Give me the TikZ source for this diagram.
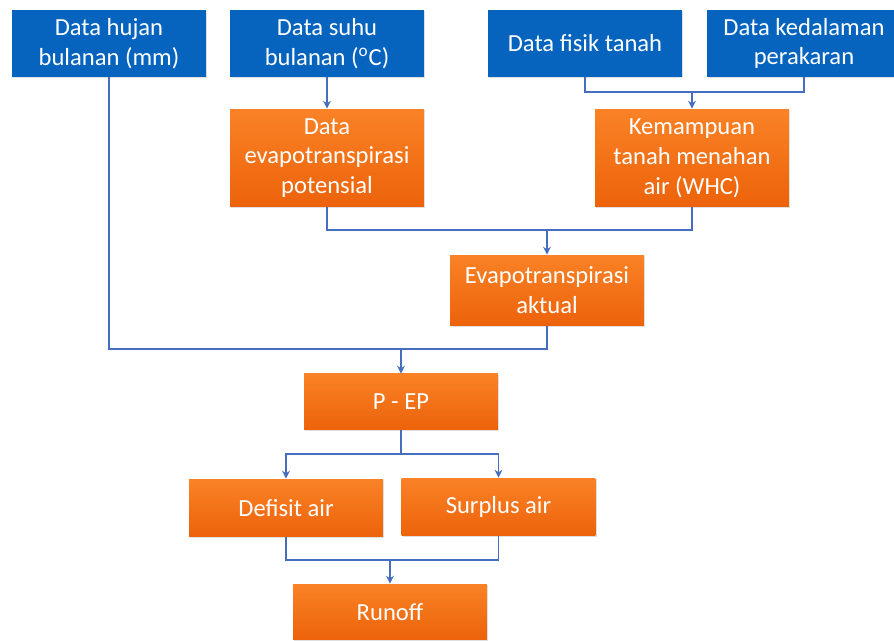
\documentclass[tikz,border=0pt]{standalone}
\usepackage{fontspec}
\setmainfont{Carlito}
\usetikzlibrary{positioning, arrows.meta, shadows}

\definecolor{boxblue}{RGB}{6,100,190}
\definecolor{boxorangetop}{RGB}{250,130,38}
\definecolor{boxorangebot}{RGB}{236,98,10}
\definecolor{linkblue}{RGB}{70,110,190}

\begin{document}
\begin{tikzpicture}[
    x=0.02cm, y=-0.02cm,
    % Blue input boxes
    input_box/.style={rectangle, fill=boxblue, text=white, align=center,
        minimum width=3.88cm, minimum height=1.34cm, inner sep=2pt,
        font=\fontsize{14}{17}\selectfont,
        drop shadow={shadow xshift=0.8pt, shadow yshift=-0.8pt, opacity=0.25}},
    % Orange process boxes
    process_box/.style={rectangle, top color=boxorangetop, bottom color=boxorangebot,
        draw=none, text=white, align=center, minimum width=3.88cm, inner sep=2pt,
        font=\fontsize{14}{17}\selectfont,
        drop shadow={shadow xshift=0.8pt, shadow yshift=-0.8pt, opacity=0.25}},
    % Connector styles
    link/.style={line width=0.9pt, color=linkblue},
    arrow/.style={-{Stealth[length=4.5pt, width=4.5pt]}, line width=0.9pt, color=linkblue}
]
    \clip (0,0) rectangle (894,641);

    % --- INPUT DATA ---
    \node[input_box] (hujan) at (109, 43.5) {Data hujan\\bulanan (mm)};
    \node[input_box] (suhu) at (327, 43.5) {Data suhu\\bulanan (\textsuperscript{o}C)};
    \node[input_box] (fisik) at (585, 43.5) {Data fisik tanah};
    \node[input_box] (dalam) at (804, 43.5) {Data kedalaman\\perakaran};

    % --- SECOND ROW ---
    \node[process_box, minimum height=1.96cm] (etp) at (327, 158) {Data\\evapotranspirasi\\potensial};
    \node[process_box, minimum height=1.96cm] (whc) at (692, 158) {Kemampuan\\tanah menahan\\air (WHC)};

    % --- ACTUAL ET ---
    \node[process_box, minimum height=1.42cm] (eta) at (547, 290.5) {Evapotranspirasi\\aktual};

    % --- BALANCE ---
    \node[process_box, minimum height=1.12cm] (pep) at (401, 402) {P - EP};
    \node[process_box, minimum height=1.16cm] (defisit) at (286, 508) {Defisit air};
    \node[process_box, minimum height=1.16cm] (surplus) at (498.5, 507) {Surplus air};
    \node[process_box, minimum height=1.12cm] (runoff) at (390, 612) {Runoff};

    % --- JUNCTIONS ---
    \coordinate (j_whc) at (692, 92);
    \coordinate (j_eta) at (547, 230);
    \coordinate (j_pep) at (401, 349);
    \coordinate (j_split) at (401, 454);
    \coordinate (j_run) at (390, 560);

    % --- CONNECTIONS ---
    \draw[arrow] (suhu) -- (etp);
    \draw[link] (fisik.south) |- (j_whc) -| (dalam.south);
    \draw[arrow] (j_whc) -- (whc);
    \draw[link] (etp.south) |- (j_eta) -| (whc.south);
    \draw[arrow] (j_eta) -- (eta);
    \draw[link] (hujan.south) |- (j_pep) -| (eta.south);
    \draw[arrow] (j_pep) -- (pep);
    \draw[arrow] (pep.south) -- (j_split) -| (defisit.north);
    \draw[arrow] (j_split) -| (surplus.north);
    \draw[link] (defisit.south) |- (j_run) -| (surplus.south);
    \draw[arrow] (j_run) -- (runoff);

\end{tikzpicture}
\end{document}
